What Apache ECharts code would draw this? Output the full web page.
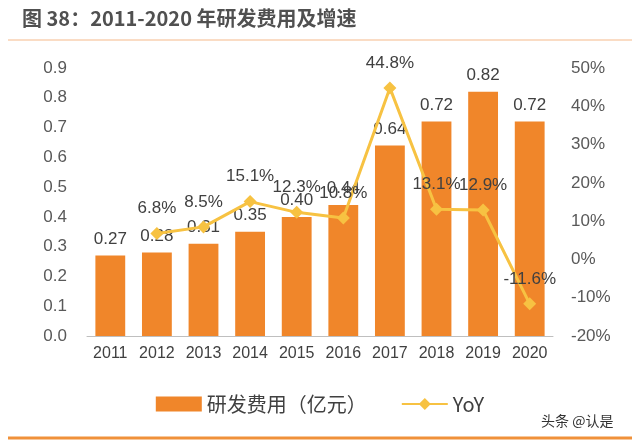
<!DOCTYPE html>
<html><head><meta charset="utf-8">
<script src="https://cdn.jsdelivr.net/npm/echarts@6/dist/echarts.min.js"></script>
<style>html,body{margin:0;padding:0;background:#fff;}#c{width:640px;height:444px;}</style>
</head><body><div id="c"></div>
<script>
const categories = ['2011','2012','2013','2014','2015','2016','2017','2018','2019','2020'];
const rdCost = [0.27,0.28,0.31,0.35,0.40,0.44,0.64,0.72,0.82,0.72];
const yoy = [null,6.8,8.5,15.1,12.3,10.8,44.8,13.1,12.9,-11.6];
const leftTicks = [0,0.9,0.1];
const rightTicks = [-20,50,10];
const chart = echarts.init(document.getElementById('c'));
const font = 'Liberation Sans, Arial, sans-serif';
chart.setOption({
  animation:false,
  graphic:[
    {type:'text',left:22,top:8,style:{text:'图 38：2011-2020 年研发费用及增速',font:'bold 20px "Noto Sans CJK SC", sans-serif',fill:'#505050'}},
    {type:'line',shape:{x1:8,y1:40,x2:632,y2:40},style:{stroke:'#F5B98A',lineWidth:1}},
    {type:'line',shape:{x1:8,y1:438,x2:632,y2:438},style:{stroke:'#F0913A',lineWidth:3}},
    {type:'text',left:541,top:414,style:{text:'头条 @认是',font:'14px "Noto Sans CJK SC", sans-serif',fill:'#333'}}
  ],
  legend:{
    bottom:25,left:'center',itemGap:34,itemWidth:46,itemHeight:15,
    textStyle:{fontSize:20,color:'#404040',fontFamily:'"Noto Sans CJK SC", sans-serif'},
    data:[{name:'研发费用（亿元）',icon:'rect'},{name:'YoY'}]
  },
  grid:{left:87,right:87,top:68,bottom:108},
  xAxis:{type:'category',data:categories,
    axisLine:{lineStyle:{color:'#BFBFBF'}},axisTick:{show:false},
    axisLabel:{fontSize:16,color:'#404040',fontFamily:font,margin:10}},
  yAxis:[
    {type:'value',min:leftTicks[0],max:leftTicks[1],interval:leftTicks[2],splitLine:{show:false},
      axisLabel:{fontSize:17,color:'#595959',fontFamily:font,margin:20,formatter:v=>v.toFixed(1)}},
    {type:'value',min:rightTicks[0],max:rightTicks[1],interval:rightTicks[2],splitLine:{show:false},
      axisLabel:{fontSize:17,color:'#595959',fontFamily:font,margin:18,formatter:v=>v+'%'}}
  ],
  series:[
    {name:'研发费用（亿元）',type:'bar',data:rdCost,barWidth:'64%',itemStyle:{color:'#F0862A'},
      label:{show:true,position:'top',distance:8,fontSize:17,color:'#404040',fontFamily:font,formatter:p=>p.value.toFixed(2)}},
    {name:'YoY',type:'line',yAxisIndex:1,data:yoy,symbol:'diamond',symbolSize:13,
      lineStyle:{color:'#F7C242',width:3},itemStyle:{color:'#F7C242'},
      label:{show:true,position:'top',distance:10,fontSize:17,color:'#404040',fontFamily:font,formatter:p=>p.value.toFixed(1)+'%'}}
  ]
});
</script></body></html>
